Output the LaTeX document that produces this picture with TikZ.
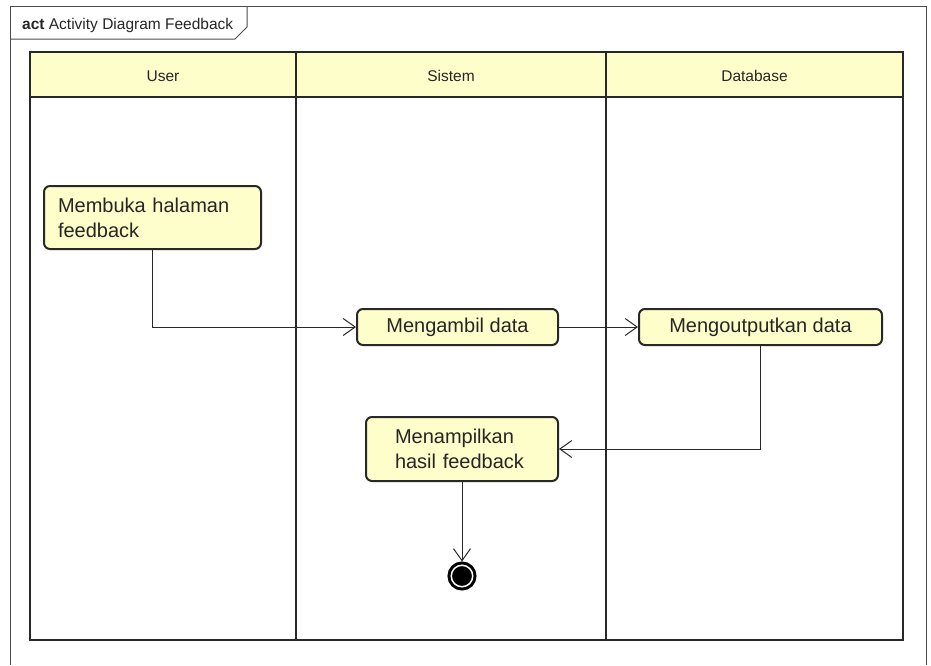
\documentclass[tikz,border=0pt]{standalone}
\usepackage{fontspec}
\setmainfont{Liberation Sans}
\usepackage{tikz}
\usetikzlibrary{arrows.meta,positioning}
\definecolor{kuning}{RGB}{254,254,202}
\definecolor{garis}{RGB}{40,40,40}
\tikzset{
    %Define standard arrow tip
    >={Straight Barb[length=12pt,width=17pt]},
    %Define style for activities
    aktivitas/.style={
           rectangle,
           rounded corners=6pt,
           draw=garis, line width=2pt,
           fill=kuning,
           minimum height=36pt,
           inner xsep=8pt,
           font=\fontsize{20}{25}\selectfont,
           text=black!85},
    %Define style for the final node
    akhir/.style={
           circle,
           draw=black, line width=3pt,
           double=white, double distance=1.5pt,
           fill=black,
           inner sep=0pt,
           outer sep=3.75pt,
           minimum size=21.5pt},
    %Define style for lane titles
    judul/.style={
           anchor=base,
           inner sep=0pt,
           font=\fontsize{15.5}{18}\selectfont,
           text=black!85},
    % Define arrow style
    pil/.style={
           ->,
           draw=garis,
           line width=1pt},
    siku/.style={to path={|- (\tikztotarget)}}
}

\begin{document}
\begin{tikzpicture}[x=1pt,y=-1pt]
\useasboundingbox (0,0) rectangle (931,665);
% frame
\draw[black!70,line width=1pt] (10,665) -- (10,6) -- (926,6) -- (926,665);
\draw[black!70,line width=1pt] (10,39) -- (235,39) -- (247,27) -- (247,6);
\node[judul,anchor=base west] (act) at (22,29) {\textbf{act} Activity Diagram Feedback};
% lanes
\fill[kuning] (30,52) rectangle (903,97);
\draw[garis,line width=2.5pt] (30,52) rectangle (903,640);
\draw[garis,line width=2.5pt] (30,97) -- (903,97) (296,52) -- (296,640) (606,52) -- (606,640);
\foreach \x/\nama in {163/User,451/Sistem,754.5/Database}
    \node[judul] (lajur-\nama) at (\x,81.5) {\nama};
% activities
\node[aktivitas,text width=189pt,align=left,inner xsep=14pt,minimum height=63pt] (buka) at (152.5,217.5) {Membuka halaman\\feedback};
\node[aktivitas,minimum width=201pt] (ambil) at (457.5,327) {Mengambil data};
\node[aktivitas,minimum width=243pt,right=79pt of ambil] (keluar) {Mengoutputkan data};
\node[aktivitas,text width=134pt,align=left,minimum width=192pt,minimum height=64pt,below=70pt of ambil,xshift=4.5pt] (tampil) {Menampilkan\\hasil feedback};
\node[akhir,below=79.5pt of tampil] (selesai) {};
\path[pil]
	(buka) edge[siku] (ambil)
	(ambil) edge (keluar)
	(keluar) edge[siku] (tampil)
	(tampil) edge (selesai);
\end{tikzpicture}
\end{document}
